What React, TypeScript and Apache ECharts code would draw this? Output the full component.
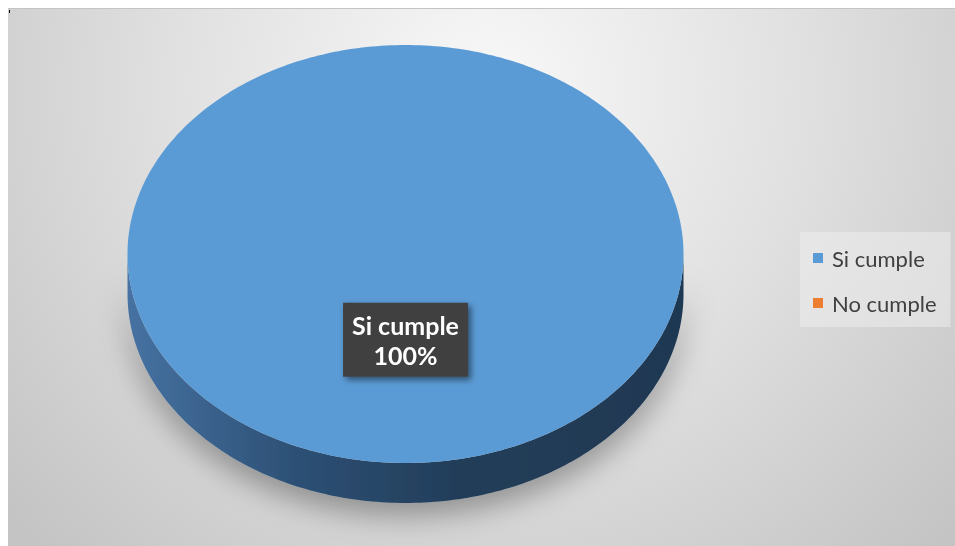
import React, { useEffect, useRef } from 'react';
import * as echarts from 'echarts';

const categories = ['Si cumple', 'No cumple'];
const values = [100, 0];
const topColors = ['#5b9bd5', '#ed7d31'];
const sideStops = [
  ['#4672a2', '#2d5075', '#223d59', '#1f3852'],
  ['#c0682a', '#9a5222', '#7a411b', '#6e3a18'],
];

const CX = 397.5, CY = 246, RX = 278, RY = 209, DEPTH = 40;

function pt(f: number, dy = 0): number[] {
  const a = -Math.PI / 2 + 2 * Math.PI * f;
  return [CX + RX * Math.cos(a), CY + RY * Math.sin(a) + dy];
}

export default function App() {
  const ref = useRef<HTMLDivElement>(null);
  useEffect(() => {
    if (!ref.current) return;
    const chart = echarts.init(ref.current, null, { renderer: 'svg' });
    const total = values.reduce((a, b) => a + b, 0);
    let acc = 0;
    const ranges = values.map((v) => {
      const s = acc / total;
      acc += v;
      return [s, acc / total];
    });

    const series = categories.map((name, i) => ({
      type: 'custom',
      name,
      coordinateSystem: 'none',
      itemStyle: { color: topColors[i] },
      data: [ranges[i]],
      renderItem: (params: any, api: any) => {
        const s = api.value(0);
        const e = api.value(1);
        if (e - s <= 0) return null;
        const idx = params.seriesIndex;
        const steps = Math.max(4, Math.ceil((e - s) * 360));
        const topPts: number[][] = [];
        for (let k = 0; k <= steps; k++) topPts.push(pt(s + ((e - s) * k) / steps));
        const full = e - s >= 0.9999;
        const topPoly = full ? topPts : [[CX, CY], ...topPts];
        const children: any[] = [];
        const f0 = Math.max(s, 0.25);
        const f1 = Math.min(e, 0.75);
        if (f1 > f0) {
          const n = Math.max(4, Math.ceil((f1 - f0) * 360));
          const up: number[][] = [];
          const down: number[][] = [];
          for (let k = 0; k <= n; k++) {
            const f = f0 + ((f1 - f0) * k) / n;
            up.push(pt(f));
            down.push(pt(f, DEPTH));
          }
          const st = sideStops[idx];
          children.push({
            type: 'polygon',
            shape: { points: [...up, ...down.reverse()] },
            style: {
              fill: new echarts.graphic.LinearGradient(0, 0, 1, 0, [
                { offset: 0, color: st[0] },
                { offset: 0.3, color: st[1] },
                { offset: 0.6, color: st[2] },
                { offset: 1, color: st[3] },
              ]),
              shadowBlur: 30,
              shadowColor: 'rgba(0,0,0,0.35)',
              shadowOffsetY: 12,
            },
          });
        }
        children.push({
          type: 'polygon',
          shape: { points: topPoly },
          style: { fill: topColors[idx] },
        });
        const m = (s + e) / 2;
        const a = -Math.PI / 2 + 2 * Math.PI * m;
        const pct = Math.round((values[idx] / total) * 100);
        children.push({
          type: 'text',
          x: CX + RX * 0.41 * Math.cos(a),
          y: CY + RY * 0.41 * Math.sin(a),
          z2: 20,
          style: {
            text: categories[idx] + '\n' + pct + '%',
            fill: '#ffffff',
            fontSize: 25,
            fontWeight: 'bold',
            fontFamily: 'Lato',
            lineHeight: 30,
            align: 'center',
            verticalAlign: 'middle',
            backgroundColor: '#404040',
            padding: [7, 9, 7, 9],
            shadowBlur: 6,
            shadowColor: 'rgba(0,0,0,0.5)',
            shadowOffsetX: 3,
            shadowOffsetY: 3,
          },
        });
        return { type: 'group', children };
      },
    }));

    chart.setOption({
      animation: false,
      backgroundColor: {
        type: 'radial',
        x: 480,
        y: 80,
        r: 640,
        global: true,
        colorStops: [
          { offset: 0, color: '#f8f8f8' },
          { offset: 0.5, color: '#e0e0e0' },
          { offset: 1, color: '#c4c4c4' },
        ],
      },
      legend: {
        orient: 'vertical',
        left: 792,
        top: 224,
        icon: 'rect',
        itemWidth: 10,
        itemHeight: 10,
        itemGap: 21,
        padding: [14, 14, 12, 13],
        backgroundColor: 'rgba(240,240,240,0.5)',
        textStyle: { fontSize: 22, lineHeight: 24, color: '#404040', fontFamily: 'Lato', padding: [0, 0, 0, 4] },
        data: categories,
      },
      graphic: [
        { type: 'line', shape: { x1: 0, y1: 0.5, x2: 947, y2: 0.5 }, style: { stroke: '#c4c4c4', lineWidth: 1 } },
        { type: 'rect', shape: { x: 1, y: 2, width: 1, height: 3 }, style: { fill: '#000' } },
      ],
      series,
    });
    return () => chart.dispose();
  }, []);
  return <div ref={ref} style={{ position: 'fixed', left: 8, top: 8, width: 947, height: 538 }} />;
}
